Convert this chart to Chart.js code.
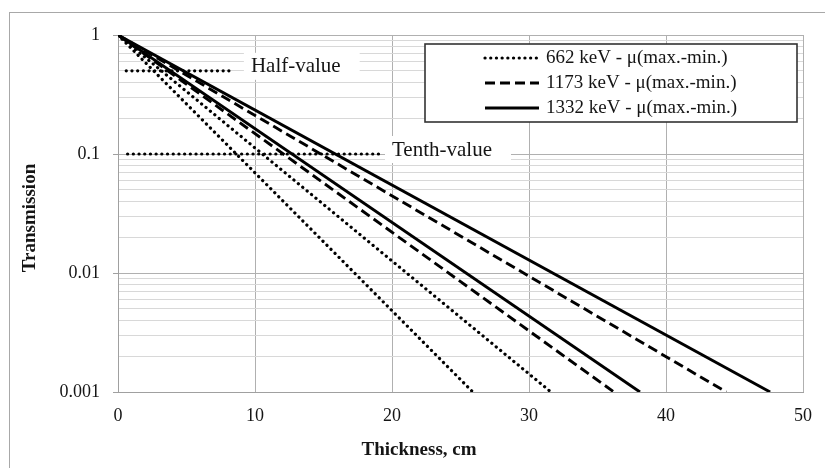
<!DOCTYPE html>
<html>
<head>
<meta charset="utf-8">
<script src="https://cdn.jsdelivr.net/npm/chart.js@4.4.0/dist/chart.umd.min.js"></script>
<style>
  html, body { margin: 0; padding: 0; background: #fff; overflow: hidden; }
  canvas { display: block; }
</style>
</head>
<body>
<canvas id="chart" width="825" height="468"></canvas>
<script>
// thickness (cm) where each line reaches the bottom of the axis
const seriesLabels = ['662 keV - μ(max.-min.)', '1173 keV - μ(max.-min.)', '1332 keV - μ(max.-min.)'];
const ends662 = [25.9, 31.6];
const ends1173 = [36.2, 44.4];
const ends1332 = [38.1, 47.6];
const startThickness = 0;
const startTransmission = 1;
const endTransmission = 0.001;

// reference lines
const halfValueX = [0.6, 8.5];
const halfValueY = 0.5;
const tenthValueX = [0.7, 19.2];
const tenthValueY = 0.1;
const halfValueLabelX = 9.7;
const tenthValueLabelX = 20.0;

// axes
const xTicks = [0, 10, 20, 30, 40, 50];
const yMajorTicks = [0.001, 0.01, 0.1, 1];
const yTickLabels = ['0.001', '0.01', '0.1', '1'];
const yMinorSteps = [2, 3, 4, 5, 6, 7, 8, 9];

const SERIF = '"Liberation Serif", "Times New Roman", serif';
const TEXT = '#151515';

const lineStyles = [
  { dash: [0.1, 5.6], cap: 'round', width: 3.2 },
  { dash: [10, 5], cap: 'butt', width: 2.9 },
  { dash: [], cap: 'butt', width: 2.9 }
];

function straightLine(end) {
  return [{ x: startThickness, y: startTransmission }, { x: end, y: endTransmission }];
}

function makeDataset(points, style) {
  return {
    data: points,
    borderColor: '#000',
    borderWidth: style.width,
    borderDash: style.dash,
    borderCapStyle: style.cap,
    pointRadius: 0,
    tension: 0,
    fill: false
  };
}

const datasets = [];
[ends662, ends1173, ends1332].forEach((ends, i) => {
  ends.forEach(end => datasets.push(makeDataset(straightLine(end), lineStyles[i])));
});
datasets.push(makeDataset(halfValueX.map(x => ({ x: x, y: halfValueY })), lineStyles[0]));
datasets.push(makeDataset(tenthValueX.map(x => ({ x: x, y: tenthValueY })), lineStyles[0]));

const valueLabels = [
  { text: 'Half-value', x: halfValueLabelX, y: halfValueY, dy: -4 },
  { text: 'Tenth-value', x: tenthValueLabelX, y: tenthValueY, dy: -4 }
];

const overlay = {
  id: 'overlay',
  beforeDraw(chart) {
    const ctx = chart.ctx;
    ctx.save();
    ctx.strokeStyle = '#a8a8a8';
    ctx.lineWidth = 1;
    ctx.strokeRect(9.5, 12.5, 1000, 1000);
    ctx.restore();
  },
  beforeDatasetsDraw(chart) {
    const ctx = chart.ctx;
    const xs = chart.scales.x, ys = chart.scales.y;
    ctx.save();
    ctx.font = '21px ' + SERIF;
    ctx.textBaseline = 'middle';
    valueLabels.forEach(l => {
      const px = xs.getPixelForValue(l.x);
      const py = ys.getPixelForValue(l.y) + l.dy;
      const w = ctx.measureText(l.text).width;
      ctx.fillStyle = '#fff';
      ctx.fillRect(px - 7, py - 14, w + 26, 27);
      ctx.fillStyle = TEXT;
      ctx.fillText(l.text, px, py);
    });
    ctx.restore();
  },
  afterDraw(chart) {
    const ctx = chart.ctx;
    ctx.save();
    // legend
    const bx = 425, by = 44, bw = 372, bh = 78;
    ctx.fillStyle = '#fff';
    ctx.fillRect(bx, by, bw, bh);
    ctx.strokeStyle = '#333';
    ctx.lineWidth = 1.6;
    ctx.strokeRect(bx, by, bw, bh);
    ctx.font = '19px ' + SERIF;
    ctx.textBaseline = 'middle';
    seriesLabels.forEach((label, i) => {
      const cy = 58 + i * 25;
      const st = lineStyles[i];
      ctx.beginPath();
      ctx.setLineDash(st.dash);
      ctx.lineCap = st.cap;
      ctx.lineWidth = st.width;
      ctx.strokeStyle = '#000';
      ctx.moveTo(485, cy);
      ctx.lineTo(539, cy);
      ctx.stroke();
      ctx.setLineDash([]);
      ctx.fillStyle = TEXT;
      ctx.fillText(label, 546, cy);
    });
    // axis titles
    ctx.font = 'bold 19px ' + SERIF;
    ctx.fillStyle = TEXT;
    ctx.textAlign = 'center';
    ctx.fillText('Thickness, cm', 419, 450);
    ctx.translate(30, 218);
    ctx.rotate(-Math.PI / 2);
    ctx.fillText('Transmission', 0, 0);
    ctx.restore();
  }
};

new Chart(document.getElementById('chart'), {
  type: 'line',
  data: { datasets: datasets },
  plugins: [overlay],
  options: {
    responsive: false,
    animation: false,
    layout: { padding: { top: 35, right: 19, left: 0, bottom: 0 } },
    plugins: { legend: { display: false }, tooltip: { enabled: false } },
    scales: {
      x: {
        type: 'linear',
        min: 0,
        max: 50,
        afterBuildTicks: scale => { scale.ticks = xTicks.map(v => ({ value: v })); },
        afterFit: scale => { scale.height = 76; },
        grid: { color: '#b0b0b0', drawTicks: false },
        border: { color: '#a0a0a0' },
        ticks: { padding: 13, color: TEXT, font: { family: SERIF, size: 18 } }
      },
      y: {
        type: 'logarithmic',
        min: 0.001,
        max: 1,
        afterBuildTicks: scale => {
          const ticks = [];
          yMajorTicks.forEach((m, i) => {
            ticks.push({ value: m, major: true });
            if (i < yMajorTicks.length - 1) {
              yMinorSteps.forEach(s => ticks.push({ value: m * s }));
            }
          });
          scale.ticks = ticks;
        },
        afterFit: scale => { scale.width = 118; },
        grid: {
          color: ctx => (ctx.tick && ctx.tick.major) ? '#b0b0b0' : '#d8d8d8',
          tickColor: ctx => (ctx.tick && ctx.tick.major) ? '#a0a0a0' : 'rgba(0,0,0,0)',
          tickLength: 5
        },
        border: { color: '#a0a0a0' },
        ticks: {
          autoSkip: false,
          padding: 13,
          color: TEXT,
          font: { family: SERIF, size: 18 },
          callback: value => {
            const idx = yMajorTicks.findIndex(m => Math.abs(m - value) < m * 1e-6);
            return idx >= 0 ? yTickLabels[idx] : '';
          }
        }
      }
    }
  }
});
</script>
</body>
</html>
